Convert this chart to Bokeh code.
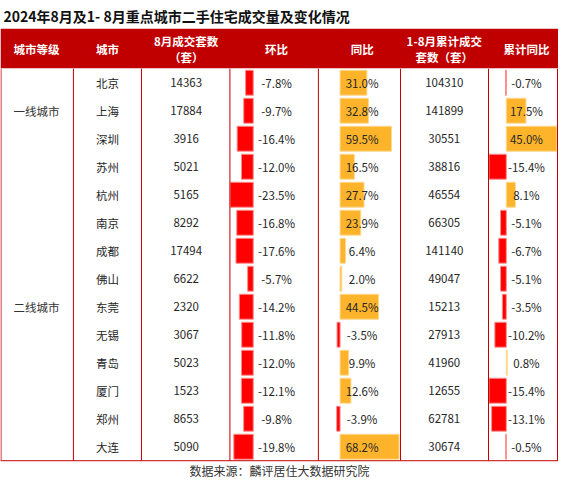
from bokeh.plotting import figure
from bokeh.models import Range1d, ColumnDataSource
from bokeh.core.properties import value
from bokeh.embed import file_html
from bokeh.resources import INLINE

# ---------------- data ----------------
title = "2024年8月及1- 8月重点城市二手住宅成交量及变化情况"
headers = ["城市等级", "城市", "8月成交套数\n（套）", "环比", "同比", "1-8月累计成交\n套数（套）", "累计同比"]
tier_names = ["一线城市", "二线城市"]
tier_counts = [3, 11]
cities = ["北京", "上海", "深圳", "苏州", "杭州", "南京", "成都", "佛山", "东莞", "无锡", "青岛", "厦门", "郑州", "大连"]
aug_deals = [14363, 17884, 3916, 5021, 5165, 8292, 17494, 6622, 2320, 3067, 5023, 1523, 8653, 5090]
mom = [-7.8, -9.7, -16.4, -12.0, -23.5, -16.8, -17.6, -5.7, -14.2, -11.8, -12.0, -12.1, -9.8, -19.8]
yoy = [31.0, 32.8, 59.5, 16.5, 27.7, 23.9, 6.4, 2.0, 44.5, -3.5, 9.9, 12.6, -3.9, 68.2]
cum_deals = [104310, 141899, 30551, 38816, 46554, 66305, 141140, 49047, 15213, 27913, 41960, 12655, 62781, 30674]
cum_yoy = [-0.7, 17.5, 45.0, -15.4, 8.1, -5.1, -6.7, -5.1, -3.5, -10.2, 0.8, -15.4, -13.1, -0.5]
source_note = "数据来源：麟评居住大数据研究院"

# ---------------- layout ----------------
W, H = 558, 481
SX, SY = W / 574, H / 497
FONT = value("Noto Sans CJK SC")
DARK_RED = "#C00000"
NEG = "#FF0000"
POS = "#FDB42B"
TXT = "#262626"

col_edges = [e * SX for e in [0.5, 75, 145, 236, 327, 411.5, 502, 573]]
col_centers = [c * SX for c in [37, 110, 191, 284, 372, 456.5, 541]]
head_top, head_bot = 29.3 * SY, 70.0 * SY
rows_top = 70.5 * SY
row_h = 28.0
rows_bot = rows_top + row_h * len(cities)

p = figure(width=W, height=H, x_range=Range1d(0, W), y_range=Range1d(H, 0),
           output_backend="svg", toolbar_location=None, min_border=0)
p.axis.visible = False
p.grid.visible = False
p.outline_line_color = None
p.background_fill_color = "white"
p.border_fill_color = "white"

# row range: row i centred at value i
p.extra_y_ranges = {"rows": Range1d(start=(H - rows_top) / row_h - 0.5,
                                    end=(0 - rows_top) / row_h - 0.5)}


def bar_range(zero_ref, ppu_ref):
    z = zero_ref * SX
    k = ppu_ref * SX
    return Range1d(start=-z / k, end=(W - z) / k)


p.extra_x_ranges = {
    "mom": bar_range(260.0, 1.01),
    "yoy": bar_range(349.3, 0.89),
    "cum": bar_range(520.3, 1.155),
}

# title
p.text(x=[3], y=[16.5 * SY], text=[title], text_font=FONT, text_font_size="14px",
       text_font_style="bold", text_color="#111111", text_align="left", text_baseline="middle")

# header band
p.quad(left=[0], right=[W], top=[head_top], bottom=[head_bot], fill_color=DARK_RED, line_color=None)
single, dbl1, dbl2 = [], [], []
for h, cx in zip(headers, col_centers):
    if "\n" in h:
        a, b = h.split("\n")
        dbl1.append((cx, a))
        dbl2.append((cx, b))
    else:
        single.append((cx, h))
for items, yy in [(single, 50.0), (dbl1, 42.0), (dbl2, 58.5)]:
    p.text(x=[c for c, _ in items], y=[yy * SY] * len(items), text=[t for _, t in items],
           text_font=FONT, text_font_size="11.5px", text_font_style="bold", text_color="white",
           text_align="center", text_baseline="middle")

n = len(cities)
idx = list(range(n))


def colors(vals):
    return [POS if v >= 0 else NEG for v in vals]


def edge(vals):
    return ["#FFD98F" if v >= 0 else "#FF8C8C" for v in vals]


src = ColumnDataSource(dict(
    y=idx, city=cities,
    aug=[str(v) for v in aug_deals], cum=[str(v) for v in cum_deals],
    mom=mom, yoy=yoy, cy=cum_yoy,
    mom_l=[f"{v:.1f}%" for v in mom], yoy_l=[f"{v:.1f}%" for v in yoy], cy_l=[f"{v:.1f}%" for v in cum_yoy],
    mom_c=colors(mom), yoy_c=colors(yoy), cy_c=colors(cum_yoy),
    mom_e=edge(mom), yoy_e=edge(yoy), cy_e=edge(cum_yoy),
))

# data bars
for field, rng in [("mom", "mom"), ("yoy", "yoy"), ("cy", "cum")]:
    p.hbar(y="y", left=0, right=field, height=0.89, source=src, x_range_name=rng, y_range_name="rows",
           fill_color=field + "_c", line_color=field + "_e", line_width=1)

# cell texts
text_kw = dict(source=src, y="y", y_range_name="rows", text_font=FONT, text_font_size="11.5px",
               text_color=TXT, text_align="center", text_baseline="middle")
p.text(x=col_centers[1], text="city", **text_kw)
p.text(x=col_centers[2], text="aug", **text_kw)
p.text(x=col_centers[3], text="mom_l", **text_kw)
p.text(x=col_centers[4], text="yoy_l", **text_kw)
p.text(x=col_centers[5], text="cum", **text_kw)
p.text(x=col_centers[6], text="cy_l", **text_kw)

# tier labels (merged cells)
tier_y, start = [], 0
for c in tier_counts:
    tier_y.append(start + (c - 1) / 2)
    start += c
p.text(x=[col_centers[0]] * len(tier_names), y=tier_y, text=tier_names, y_range_name="rows",
       text_font=FONT, text_font_size="11.5px", text_color="#333333",
       text_align="center", text_baseline="middle")

# grid lines
p.segment(x0=col_edges, x1=col_edges, y0=[rows_top] * len(col_edges), y1=[rows_bot] * len(col_edges),
          line_color=DARK_RED, line_width=1)
p.segment(x0=[0], x1=[W], y0=[rows_bot], y1=[rows_bot], line_color=DARK_RED, line_width=1)

# footer
p.text(x=[287 * SX], y=[rows_bot + 9.5], text=[source_note], text_font=FONT, text_font_size="12px",
       text_color="#333333", text_align="center", text_baseline="middle")

open("out.html", "w").write(file_html(p, INLINE))
